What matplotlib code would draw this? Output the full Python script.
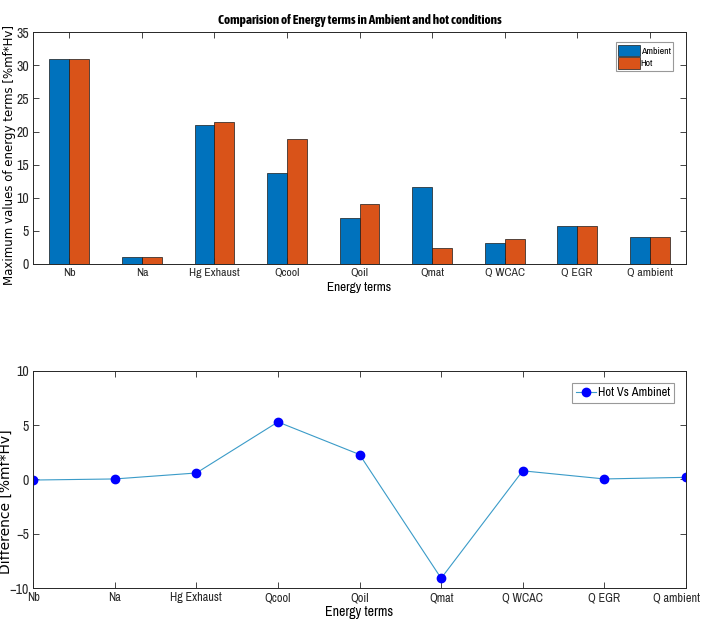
import matplotlib
matplotlib.use("Agg")
import numpy as np
import matplotlib.pyplot as plt
import matplotlib.transforms as mtransforms
from matplotlib import font_manager

# -- data --
terms = ["Nb", "Na", "Hg Exhaust", "Qcool", "Qoil", "Qmat", "Q WCAC", "Q EGR", "Q ambient"]
ambient = [31.0, 1.0, 21.0, 13.7, 6.9, 11.6, 3.1, 5.7, 4.0]
hot = [31.0, 1.0, 21.5, 18.9, 9.1, 2.4, 3.8, 5.7, 4.1]
diff = [-0.05, 0.05, 0.6, 5.3, 2.3, -9.1, 0.8, 0.05, 0.2]

# -- fonts (condensed like the matlab export) --
names = {f.name for f in font_manager.fontManager.ttflist}
def pick(*cands):
    for c in cands:
        if c in names:
            return c
    return "DejaVu Sans"
narrow = pick("Liberation Sans Narrow", "Archivo Narrow", "Barlow Semi Condensed")
narrow_b = pick("Liberation Sans Narrow", "Asap Condensed", "Barlow Semi Condensed")
wide = "DejaVu Sans"

axc = "#262626"
fig = plt.figure(figsize=(7.05, 6.33), dpi=100)

# -- top: grouped bars --
ax1 = fig.add_axes([0.047, 0.583, 0.926, 0.366])
x = np.arange(1, len(terms) + 1)
w = 0.275
ax1.bar(x - w / 2, ambient, w, color="#0072BD", edgecolor="#1a1a1a", linewidth=0.5, label="Ambient")
ax1.bar(x + w / 2, hot, w, color="#D95319", edgecolor="#1a1a1a", linewidth=0.5, label="Hot")
ax1.set_xlim(0.5, 9.5)
ax1.set_ylim(0, 35)
ax1.set_yticks(range(0, 36, 5))
ax1.set_xticks(x)
ax1.set_xticklabels(terms, fontfamily=narrow, fontsize=8.5)
ax1.set_title("Comparision of Energy terms in Ambient and hot conditions",
              fontfamily=narrow_b, fontsize=9.5, fontweight="bold", pad=6)
ax1.set_xlabel("Energy terms", fontfamily=narrow, fontsize=9.5, labelpad=3)
ax1.set_ylabel("Maximum values of energy terms [%mf*Hv]", fontfamily=wide, fontsize=8.5)
ax1.yaxis.set_label_coords(-0.026, 0.47)
leg1 = ax1.legend(loc="upper right", prop={"family": narrow, "size": 7}, fancybox=False,
                  edgecolor="#808080", handlelength=2.2, handleheight=1.4,
                  handletextpad=0.1, borderpad=0.25, labelspacing=0.15,
                  borderaxespad=0, bbox_to_anchor=(0.98, 0.957))
leg1.get_frame().set_linewidth(0.8)
for p in leg1.get_patches():
    p.set_edgecolor("#1a1a1a")

# -- bottom: difference line --
ax2 = fig.add_axes([0.047, 0.071, 0.926, 0.343])
ax2.plot(x, diff, color="#3A9BC8", linewidth=0.8, marker="o", markersize=6,
         markerfacecolor="#0000FF", markeredgecolor="#0000FF", label="Hot Vs Ambinet")
ax2.set_xlim(1, 9)
ax2.set_ylim(-10, 10)
ax2.set_yticks([-10, -5, 0, 5, 10])
ax2.set_xticks(x)
ax2.set_xticklabels(terms, fontfamily=narrow, fontsize=8.8)
ax2.set_xlabel("Energy terms", fontfamily=narrow, fontsize=10, labelpad=1)
ax2.set_ylabel("Difference [%mf*Hv]", fontfamily=wide, fontsize=10)
ax2.yaxis.set_label_coords(-0.031, 0.40)
leg2 = ax2.legend(loc="upper right", prop={"family": narrow, "size": 9}, fancybox=False,
                  edgecolor="#808080", handlelength=1.6, handletextpad=0.1,
                  borderpad=0.35, borderaxespad=0, bbox_to_anchor=(0.982, 0.945))
leg2.get_frame().set_linewidth(0.8)

for ax in (ax1, ax2):
    for s in ax.spines.values():
        s.set_color(axc)
        s.set_linewidth(0.7)
    ax.tick_params(direction="in", top=True, right=True, colors=axc, length=4, width=0.6, pad=3)
    for lab in ax.get_yticklabels():
        lab.set_fontfamily(narrow)
        lab.set_fontsize(10)

# last label sits at the figure edge, nudge it in a little (after tick_params, which resets transforms)
last = ax2.xaxis.get_major_ticks()[-1].label1
last.set_transform(last.get_transform() + mtransforms.ScaledTranslation(-7 / 72, 0, fig.dpi_scale_trans))

fig.savefig("out.png", dpi=100)
